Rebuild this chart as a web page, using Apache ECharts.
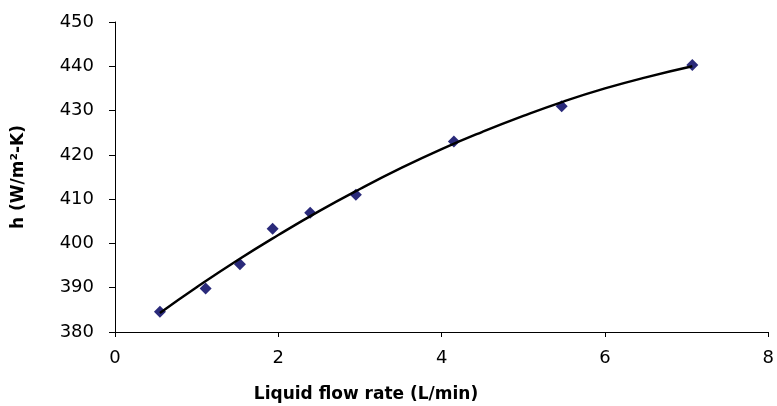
<!DOCTYPE html>
<html>
<head>
<meta charset="utf-8">
<script src="https://cdn.jsdelivr.net/npm/echarts@6/dist/echarts.min.js"></script>
<style>
html,body{margin:0;padding:0;background:#fff;}
#chart{width:777px;height:406px;}
</style>
</head>
<body>
<div id="chart"></div>
<script>
// Measured points
var flowRate = [0.55, 1.11, 1.53, 1.93, 2.39, 2.95, 4.15, 5.47, 7.07];
var hValues  = [384.6, 389.8, 395.3, 403.3, 406.9, 411.0, 423.0, 431.0, 440.3];
// Trendline
var trendX = [0.55, 1.0, 1.5, 2.0, 2.5, 3.0, 3.5, 4.0, 4.5, 5.0, 5.5, 6.0, 6.5, 7.07];
var trendY = [384.3, 390.1, 396.2, 401.9, 407.3, 412.3, 417.0, 421.3, 425.2, 428.8, 432.1, 435.0, 437.5, 440.0];
var xTicks = [0, 2, 4, 6, 8];
var yTicks = [380, 390, 400, 410, 420, 430, 440, 450];
var xTitle = 'Liquid flow rate (L/min)';
var yTitle = 'h (W/m²-K)';

var chart = echarts.init(document.getElementById('chart'), null, {renderer: 'canvas'});
var FONT = 'DejaVu Sans';
var option = {
  animation: false,
  backgroundColor: '#ffffff',
  grid: {left: 115, right: 5, top: 22, bottom: 74, containLabel: false},
  xAxis: {
    type: 'value',
    min: xTicks[0], max: xTicks[xTicks.length - 1], interval: 2,
    axisLine: {show: true, onZero: false, lineStyle: {color: '#000', width: 1}},
    axisTick: {show: true, inside: false, length: 5, lineStyle: {color: '#000'}},
    axisLabel: {color: '#000', fontFamily: FONT, fontSize: 18, margin: 17},
    splitLine: {show: false}
  },
  yAxis: {
    type: 'value',
    min: yTicks[0], max: yTicks[yTicks.length - 1], interval: 10,
    name: yTitle,
    nameLocation: 'middle',
    nameGap: 88,
    nameRotate: 90,
    nameTextStyle: {color: '#000', fontFamily: FONT, fontSize: 17, fontWeight: 'bold'},
    axisLine: {show: true, onZero: false, lineStyle: {color: '#000', width: 1}},
    axisTick: {show: true, inside: false, length: 6, lineStyle: {color: '#000'}},
    axisLabel: {color: '#000', fontFamily: FONT, fontSize: 18, margin: 21},
    splitLine: {show: false}
  },
  graphic: [{
    type: 'text',
    x: 366, y: 395,
    style: {
      text: xTitle,
      align: 'center', verticalAlign: 'middle',
      fill: '#000', font: 'bold 17px "DejaVu Sans"'
    }
  }],
  series: [
    {
      type: 'scatter',
      data: flowRate.map(function (x, i) { return [x, hValues[i]]; }),
      symbol: 'diamond',
      symbolSize: [12, 12],
      itemStyle: {color: '#2a2a7a', opacity: 1},
      z: 2
    },
    {
      type: 'line',
      data: trendX.map(function (x, i) { return [x, trendY[i]]; }),
      smooth: true,
      showSymbol: false,
      symbol: 'none',
      lineStyle: {color: '#000', width: 2.4},
      z: 3
    }
  ]
};
chart.setOption(option);
</script>
</body>
</html>
